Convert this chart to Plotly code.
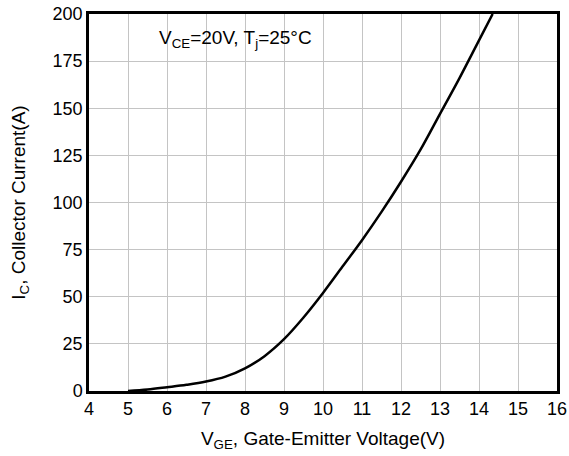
import plotly.graph_objects as go

vge = [5, 5.5, 6, 6.5, 7, 7.5, 8, 8.5, 9, 9.5, 10, 10.5, 11, 11.5, 12, 12.5, 13, 13.5, 14, 14.35]
ic = [0, 0.8, 2, 3.3, 5, 7.6, 12, 18.5, 27.5, 39, 52, 66, 80, 95, 111, 128, 147, 166, 186, 200]

x_ticks = list(range(4, 17))
y_ticks = [0, 25, 50, 75, 100, 125, 150, 175, 200]

fig = go.Figure()
fig.add_trace(go.Scatter(x=vge, y=ic, mode="lines",
                         line=dict(color="black", width=2.5, shape="spline", smoothing=1.0),
                         showlegend=False, hoverinfo="skip"))

font = "Liberation Sans, Arial, sans-serif"
fig.update_layout(
    width=569, height=456,
    margin=dict(l=89, r=12, t=14, b=65, autoexpand=False),
    paper_bgcolor="white", plot_bgcolor="white",
    font=dict(family=font, size=18, color="black"),
    xaxis=dict(range=[4, 16], tickvals=x_ticks, showgrid=True, gridcolor="#c4c4c4", gridwidth=1,
               showline=True, linecolor="black", linewidth=2.5, mirror=True, zeroline=False,
               ticks="", ticklen=0, automargin=False, tickfont=dict(size=18),
               title=dict(text="V<sub>GE</sub>, Gate-Emitter Voltage(V)", font=dict(size=19), standoff=14)),
    yaxis=dict(range=[0, 200], tickvals=y_ticks, showgrid=True, gridcolor="#c4c4c4", gridwidth=1,
               showline=True, linecolor="black", linewidth=2.5, mirror=True, zeroline=False,
               ticks="", ticklen=0, automargin=False, tickfont=dict(size=18),
               title=dict(text="I<sub>C</sub>, Collector Current(A)", font=dict(size=19), standoff=22)),
    annotations=[dict(text="V<sub>CE</sub>=20V, T<sub>j</sub>=25°C", x=0.145, y=0.935,
                      xref="paper", yref="paper", xanchor="left", yanchor="middle",
                      showarrow=False, font=dict(size=19))],
)
fig.write_html("out.html")
